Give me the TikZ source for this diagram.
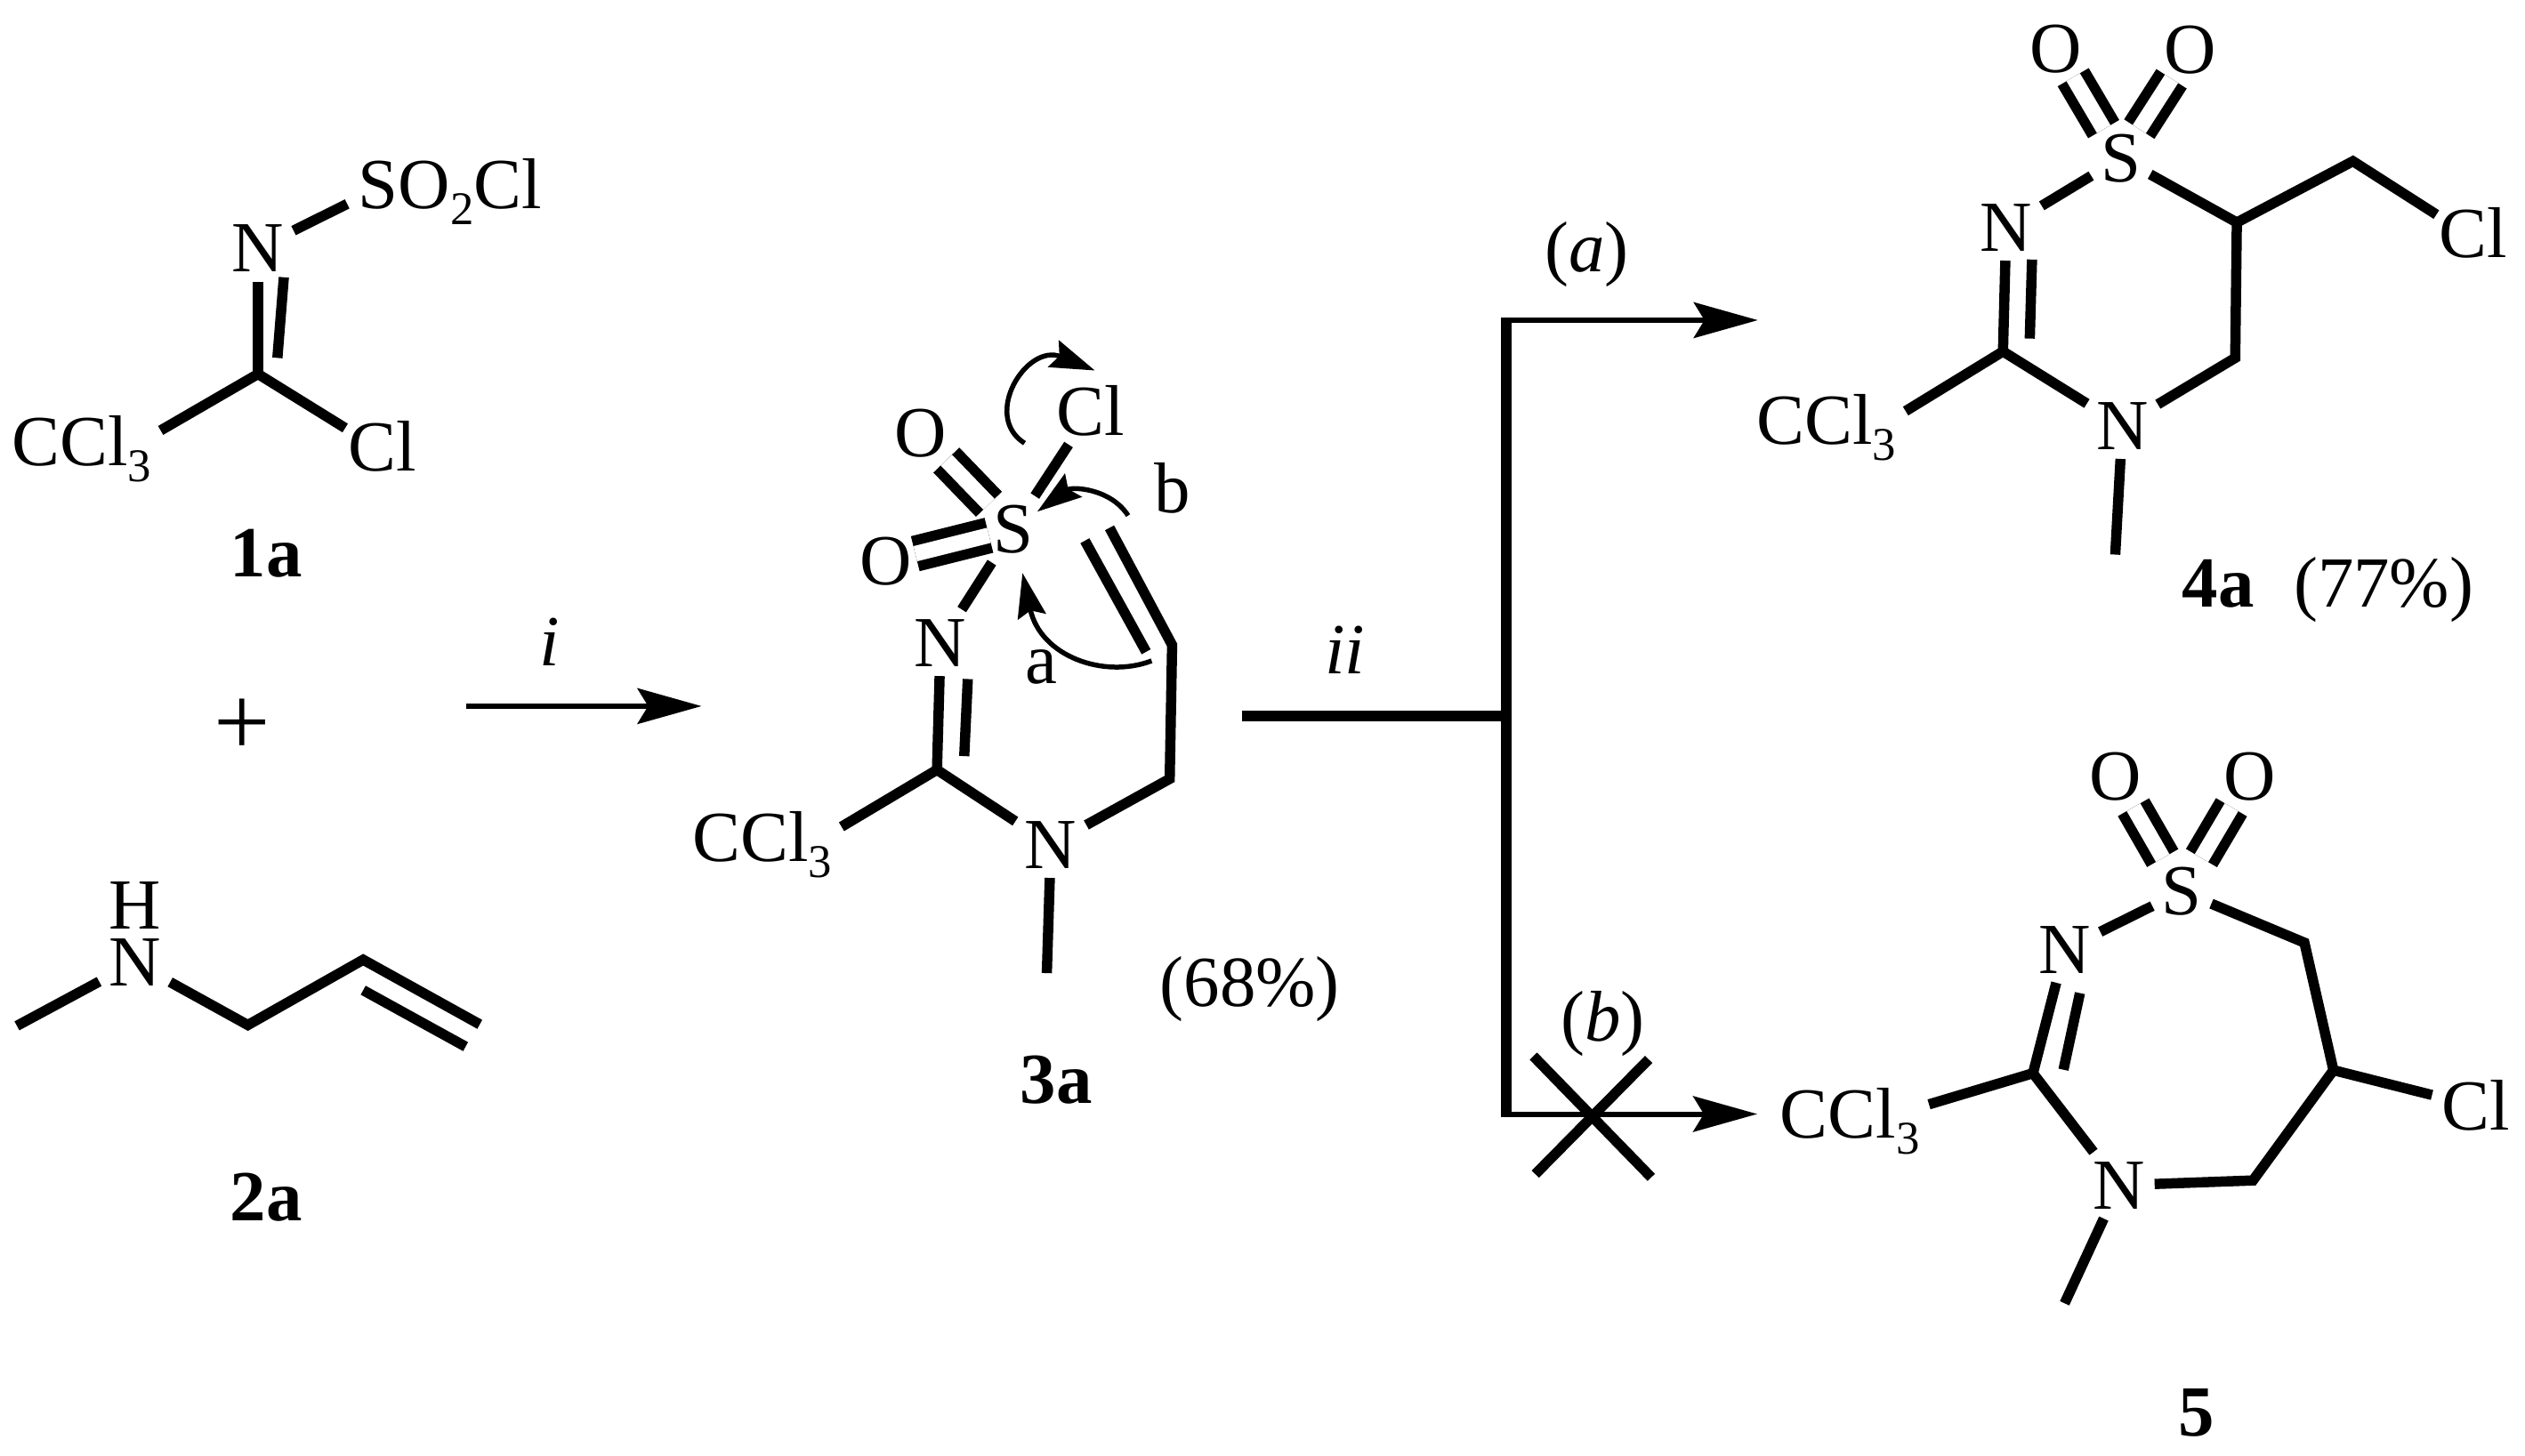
\documentclass[tikz,border=0pt]{standalone}
\usepackage{fontspec}
\setmainfont{Liberation Serif}
\usetikzlibrary{arrows.meta,positioning}
\newcommand{\lowidx}[1]{\raisebox{-.22em}{\fontsize{15}{15}\selectfont #1}}

\begin{document}
\begin{tikzpicture}[x=0.018126cm,y=-0.018126cm]
    \tikzstyle{every node}=[font=\fontsize{23}{26}\selectfont]
    \tikzstyle{atom}=[text height=.535cm,text depth=0pt,inner sep=.1cm]
    \tikzstyle{tight}=[atom,inner sep=.03cm]
    \tikzstyle{bond}=[draw,line width=.115cm,line join=miter]
    \tikzstyle{sdbl}=[bond,double,double distance=.175cm]
    \tikzstyle{rxn}=[draw,line width=.06cm,-{Stealth[length=.72cm,width=.4cm,inset=.12cm]}]
    \tikzstyle{curly}=[draw,line width=.055cm,-{Stealth[length=.5cm,width=.32cm,inset=.07cm]}]
    \useasboundingbox (0,0) rectangle (1565.7,903.1);

    \node[atom] (n11) at (160,154)  {N};
    \node[atom] (so1) at (279,114.5)  {SO\lowidx{2}Cl};
    \node[atom] (cc1) at (50.5,274) {CCl\lowidx{3}};
    \node[atom] (cl1) at (237,277.5)  {Cl};
    \node[atom] (lab1) at (165,343) {\textbf{1a}};
    \coordinate (c11) at (160,232);
    \coordinate (d11) at (176,172);
    \coordinate (d12) at (172,222);
    \draw[bond] (n11) -- ([shift={(-1,12)}]so1.west);
    \draw[bond] (n11) -- (c11);
    \draw[bond] (d11) -- (d12);
    \draw[bond] ([shift={(0,-7)}]cc1.east) -- (c11) -- ([shift={(4,-12)}]cl1.west);

    \node[font=\fontsize{32}{32}\selectfont] (plus) at (150,451) {+};

    \node[atom] (n21) at (83.5,597)  {N};
    \node[atom] (h21) [above of=n21,node distance=.645cm] {H};
    \node[atom] (lab2) at (165,742.5) {\textbf{2a}};
    \coordinate (m21) at (10.5,636.3);
    \coordinate (c21) at (153.7,635.8);
    \coordinate (c22) at (225.2,595.3);
    \coordinate (c23) at (297.5,635.4);
    \coordinate (d21) at (225.2,614.2);
    \coordinate (d22) at (288.7,649.2);
    \draw[bond] (m21) -- (n21) -- (c21) -- (c22) -- (c23);
    \draw[bond] (d21) -- (d22);

    \coordinate (ia) at (289,438);
    \coordinate (ib) at (435,438);
    \draw[rxn] (ia) -- (ib);
    \node (ilab) at (341,398) {\textit{i}};

    \node[atom,inner xsep=.04cm] (s31) at (628.2,328.3)  {S};
    \node[tight] (o31) at (570.6,268.6)  {O};
    \node[tight] (o32) at (549.4,348) {O};
    \node[atom] (cl3) at (676.1,255.1)  {Cl};
    \node[atom] (n31) at (583.2,398.7)  {N};
    \node[atom] (n32) at (651.6,523.9)  {N};
    \node[atom] (cc3) at (472.7,519.8)  {CCl\lowidx{3}};
    \node (alab) at (645.7,414) {a};
    \node (blab) at (726.8,303) {b};
    \node[atom] (yld3) at (775,609.5) {(68\%)};
    \node[atom] (lab3) at (655,669.5) {\textbf{3a}};
    \coordinate (c31) at (581,477.5);
    \coordinate (c32) at (725.3,483.1);
    \coordinate (c33) at (726.8,400.1);
    \coordinate (c34) at (688,327.4);
    \coordinate (d31) at (672.7,335.4);
    \coordinate (d32) at (710.7,404.3);
    \coordinate (d33) at (600.1,421.2);
    \coordinate (d34) at (597.9,469);
    \coordinate (m31) at (649.1,603.6);
    \draw[sdbl] (s31) -- (o31);
    \draw[sdbl] (s31) -- (o32);
    \draw[bond] (s31) -- (cl3);
    \draw[bond] (s31) -- (n31);
    \draw[bond] (n31) -- (c31);
    \draw[bond] (d33) -- (d34);
    \draw[bond] ([shift={(0,-7)}]cc3.east) -- (c31) -- (n32);
    \draw[bond] (n32) -- (c32) -- (c33) -- (c34);
    \draw[bond] (d31) -- (d32);
    \draw[bond] (n32) -- (m31);
    \coordinate (ta) at (635.3,274.9);
    \coordinate (tb) at (678.9,229.8);
    \coordinate (ab) at (714.1,409.9);
    \coordinate (bb) at (699.5,319.8);
    \draw[curly] (ta) .. controls (608.5,257.9) and (636.7,212.7) .. (tb);
    \draw[curly,shorten >=.12cm] (ab) .. controls (684.5,421.2) and (645.1,407.1) .. (s31);
    \draw[curly] (bb) .. controls (688.8,303) and (664.8,301.6) .. (s31);

    \node[atom,inner ysep=.05cm] (s41) at (1315,98)  {S};
    \node[atom,inner ysep=.05cm] (o41) at (1275,30)  {O};
    \node[atom,inner ysep=.05cm] (o42) at (1358,31)  {O};
    \node[atom] (n41) at (1244,141) {N};
    \node[atom] (n42) at (1316,264) {N};
    \node[atom] (cc4) at (1132.5,261) {CCl\lowidx{3}};
    \node[atom] (cl4) at (1533.7,145.1) {Cl};
    \node[atom] (lab4) at (1443.5,361.5) {\textbf{4a}\hspace{.55em}(77\%)};
    \coordinate (c41) at (1242,218);
    \coordinate (c42) at (1386,222);
    \coordinate (c43) at (1387,138);
    \coordinate (c44) at (1459,100);
    \coordinate (d41) at (1260,161);
    \coordinate (d42) at (1258.6,210);
    \coordinate (m41) at (1311.6,344);
    \draw[sdbl] (s41) -- (o41);
    \draw[sdbl] (s41) -- (o42);
    \draw[bond] (s41) -- (n41);
    \draw[bond] (n41) -- (c41);
    \draw[bond] (d41) -- (d42);
    \draw[bond] ([shift={(0,-6)}]cc4.east) -- (c41) -- (n42);
    \draw[bond] (n42) -- (c42) -- (c43) -- (s41);
    \draw[bond] (c43) -- (c44) -- ([shift={(4,-12)}]cl4.west);
    \draw[bond] (n42) -- (m41);

    \node[atom] (s51) at (1352.9,552.9) {S};
    \node[atom,inner ysep=.07cm] (o51) at (1312,481.7) {O};
    \node[atom,inner ysep=.07cm] (o52) at (1394.9,481.7) {O};
    \node[atom] (n51) at (1280.3,588.9) {N};
    \node[atom] (n52) at (1314,735.2) {N};
    \node[atom] (cc5) at (1147,691) {CCl\lowidx{3}};
    \node[atom] (cl5) at (1535,686.2) {Cl};
    \node[atom] (lab5) at (1362,876) {\textbf{5}};
    \coordinate (c51) at (1260.6,665.7);
    \coordinate (c52) at (1397,732.2);
    \coordinate (c53) at (1446.9,663.8);
    \coordinate (c54) at (1428.9,584.7);
    \coordinate (d51) at (1289.7,616);
    \coordinate (d52) at (1279.5,663.5);
    \coordinate (m51) at (1280.2,808.4);
    \draw[sdbl] (s51) -- (o51);
    \draw[sdbl] (s51) -- (o52);
    \draw[bond] (s51) -- (n51);
    \draw[bond] (n51) -- (c51);
    \draw[bond] (d51) -- (d52);
    \draw[bond] ([shift={(0,-6)}]cc5.east) -- (c51) -- (n52);
    \draw[bond] (n52) -- (c52) -- (c53) -- (c54) -- (s51);
    \draw[bond] (c53) -- ([shift={(0,-7)}]cl5.west);
    \draw[bond] (n52) -- (m51);

    \coordinate (iia) at (770,444);
    \coordinate (jm) at (934,444);
    \coordinate (jt) at (934,198.6);
    \coordinate (jb) at (934,691);
    \coordinate (xa) at (950.8,655.1);
    \coordinate (xb) at (1023.9,730.3);
    \coordinate (xc) at (1022.3,657.1);
    \coordinate (xd) at (952,728.3);
    \coordinate (aend) at (1090,198.6);
    \draw[bond] (iia) -- (jm);
    \draw[bond] ([yshift=.03cm]jt) -- ([yshift=-.03cm]jb);
    \draw[rxn] (jt) -- (aend);
    \draw[rxn,shorten >=.15cm] (jb) -- (cc5.west);
    \draw[bond] (xa) -- (xb);
    \draw[bond] (xc) -- (xd);
    \node (iilab) at (834,403) {\textit{ii}};
    \node (alb) at (984,158) {(\textit{a})};
    \node (blb) at (994,635) {(\textit{b})};
\end{tikzpicture}
\end{document}
